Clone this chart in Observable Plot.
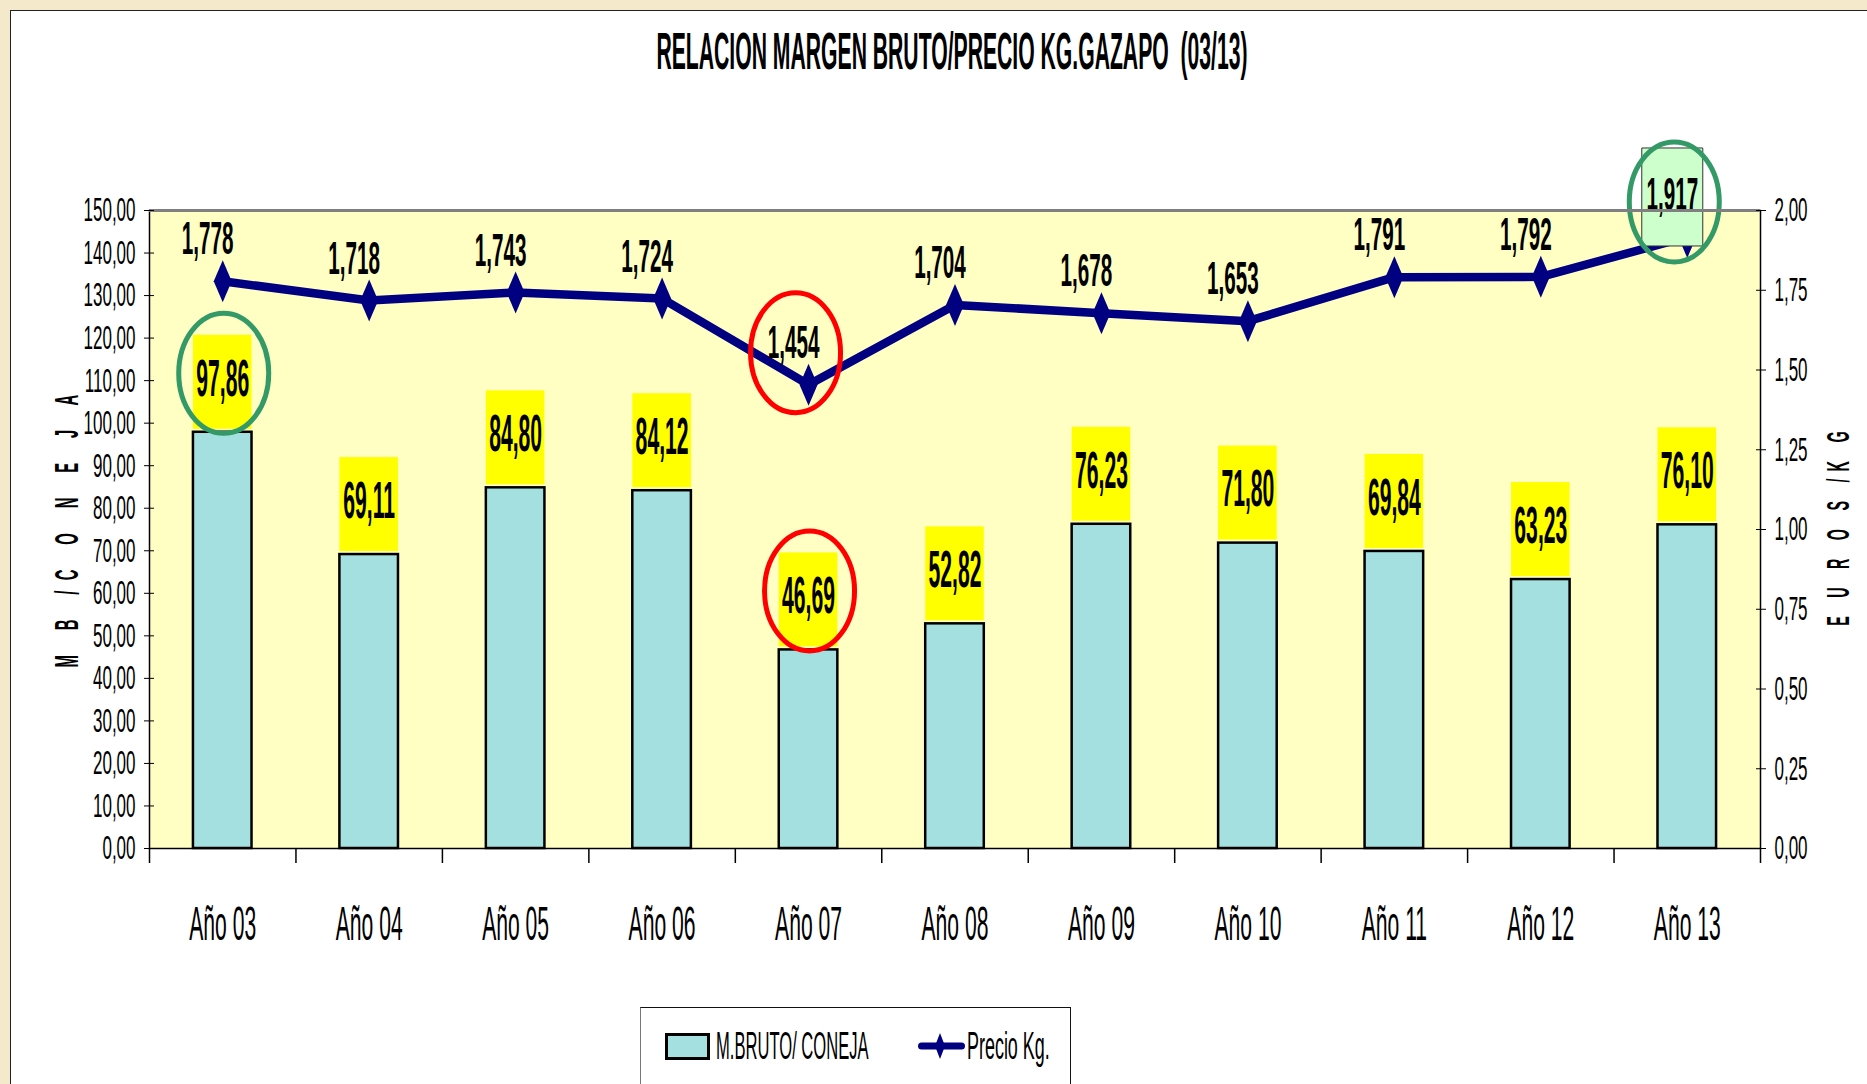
<!DOCTYPE html>
<html>
<head>
<meta charset="utf-8">
<script src="https://cdn.jsdelivr.net/npm/d3@7"></script>
<script src="https://cdn.jsdelivr.net/npm/@observablehq/plot@0.6"></script>
<style>
html, body { margin: 0; padding: 0; }
body { width: 1867px; height: 1084px; overflow: hidden; background: #f5e9cb; position: relative;
       font-family: "Liberation Sans", Arial, sans-serif; color: #000; }
#frame { position: absolute; left: 10px; top: 10px; width: 1900px; height: 1120px; background: #fff;
         border: 1.5px solid #222; box-sizing: border-box; }
#chart { position: absolute; left: 0; top: 0; }
.lbl { position: absolute; width: 0; height: 0; }
.lbl > span { position: absolute; left: 0; top: 0; white-space: pre; line-height: 1; }
#legend { position: absolute; left: 640px; top: 1007px; width: 431px; height: 120px; background: #fff;
          border-top: 1.5px solid #111; border-right: 1.5px solid #111; border-left: 1.5px solid #777; box-sizing: border-box; }
#swatchBar { position: absolute; left: 665px; top: 1033px; width: 45px; height: 27px; background: #a4e0e0;
             border: 3px solid #000; box-sizing: border-box; }
#swatchLine { position: absolute; left: 912px; top: 1030px; }
</style>
</head>
<body>
<div id="frame"></div>
<div id="legend"></div>
<div id="swatchBar"></div>
<svg id="swatchLine" width="60" height="32" viewBox="0 0 60 32">
  <line x1="9.5" y1="16" x2="49.5" y2="16" stroke="#000080" stroke-width="7" stroke-linecap="round"></line>
  <path d="M28,3 L33,16 L28,29 L23,16 Z" fill="#000080"></path>
</svg>
<div id="chart"></div>
<script>
// ---- data ----
const years = ["Año 03", "Año 04", "Año 05", "Año 06", "Año 07", "Año 08", "Año 09", "Año 10", "Año 11", "Año 12", "Año 13"];
const margen = [97.86, 69.11, 84.80, 84.12, 46.69, 52.82, 76.23, 71.80, 69.84, 63.23, 76.10];
const precio = [1.778, 1.718, 1.743, 1.724, 1.454, 1.704, 1.678, 1.653, 1.791, 1.792, 1.917];
const leftTicks = [0, 10, 20, 30, 40, 50, 60, 70, 80, 90, 100, 110, 120, 130, 140, 150];
const rightTicks = [0, 0.25, 0.5, 0.75, 1, 1.25, 1.5, 1.75, 2];
const redBarCats = ["Año 07"];
const greenBarCats = ["Año 03"];
const redPriceCats = ["Año 07"];
const greenPriceCats = ["Año 13"];
const titleText = "RELACION MARGEN BRUTO/PRECIO KG.GAZAPO  (03/13)";
const legendBar = "M.BRUTO/ CONEJA";
const legendLine = "Precio Kg.";
const leftTitle = "M B /C O N E J A";
const rightTitle = "E U R O S /K G";

// ---- layout ----
const W = 1867, H = 1000;
const mL = 149, mR = 107, mT = 210, mB = 152;
const plotH = H - mT - mB, plotW = W - mL - mR;
const yMax = 150, pMax = 2, k = yMax / pMax;
const u = yMax / plotH;                 // data units per pixel
const step = plotW / years.length;      // band step (paddingOuter = paddingInner / 2)

const rows = years.map((c, i) => ({c, m: margen[i], pr: precio[i], p: precio[i] * k}));
const fmt2 = v => v.toFixed(2).replace(".", ",");
const fmt3 = v => v.toFixed(3).replace(".", ",");

const diamond = {draw(c) { c.moveTo(0, -21); c.lineTo(9, 0); c.lineTo(0, 21); c.lineTo(-9, 0); c.closePath(); }};
const ellipse = {draw(c) {
  const rx = 45, ry = 60, kx = rx * 0.5523, ky = ry * 0.5523;
  c.moveTo(rx, 0);
  c.bezierCurveTo(rx, ky, kx, ry, 0, ry);
  c.bezierCurveTo(-kx, ry, -rx, ky, -rx, 0);
  c.bezierCurveTo(-rx, -ky, -kx, -ry, 0, -ry);
  c.bezierCurveTo(kx, -ry, rx, -ky, rx, 0);
  c.closePath();
}};
const box = {draw(c) { c.rect(-30.5, -49, 61, 98); }};

const barLabelY = d => d.m + 50 * u;
const labDx = -15, labDy = -42;

const chart = Plot.plot({
  width: W, height: H,
  marginLeft: mL, marginRight: mR, marginTop: mT, marginBottom: mB,
  style: {background: "transparent", fontFamily: "'Liberation Sans', Arial, sans-serif", color: "#000", overflow: "visible"},
  x: {type: "band", domain: years, paddingInner: 0.6, paddingOuter: 0.3, round: false, label: null},
  y: {domain: [0, yMax], label: null},
  marks: [
    Plot.frame({fill: "#ffffc4", stroke: null}),
    Plot.barY(rows, {x: "c", y: "m", fill: "#a4e0e0", stroke: "#000", strokeWidth: 2.5}),
    Plot.barY(rows, {x: "c", y1: d => d.m + 3 * u, y2: d => d.m + 97 * u, fill: "#ffff00"}),
    Plot.text(rows, {x: "c", y: barLabelY, text: d => fmt2(d.m), fontSize: 51, fontWeight: "bold", dy: -3}),
    Plot.line(rows, {x: "c", y: "p", stroke: "#000080", strokeWidth: 8.5}),
    Plot.dot(rows, {x: "c", y: "p", symbol: diamond, fill: "#000080", stroke: null}),
    Plot.dot(rows.filter(d => greenPriceCats.includes(d.c)), {x: "c", y: "p", dx: labDx, dy: labDy + 2, symbol: box, fill: "#ccffcc", stroke: "#333", strokeWidth: 1}),
    Plot.text(rows, {x: "c", y: "p", text: d => fmt3(d.pr), dx: labDx, dy: labDy, fontSize: 47, fontWeight: "bold"}),
    Plot.dot(rows.filter(d => greenBarCats.includes(d.c)), {x: "c", y: barLabelY, dx: 1, dy: -9, symbol: ellipse, fill: "none", stroke: "#339966", strokeWidth: 5}),
    Plot.dot(rows.filter(d => redBarCats.includes(d.c)), {x: "c", y: barLabelY, dx: 1, dy: -9, symbol: ellipse, fill: "none", stroke: "#ff0000", strokeWidth: 5}),
    Plot.dot(rows.filter(d => redPriceCats.includes(d.c)), {x: "c", y: "p", dx: -13, dy: -32, symbol: ellipse, fill: "none", stroke: "#ff0000", strokeWidth: 5}),
    Plot.dot(rows.filter(d => greenPriceCats.includes(d.c)), {x: "c", y: "p", dx: -13, dy: -35, symbol: ellipse, fill: "none", stroke: "#339966", strokeWidth: 5}),
    Plot.frame({stroke: "#000", strokeWidth: 1.5}),
    Plot.ruleY([yMax], {stroke: "#808080", strokeWidth: 3}),
    Plot.ruleX(years, {x: d => d, dx: -step / 2, y1: 0, y2: -15 * u, stroke: "#000", strokeWidth: 1.5}),
    Plot.ruleX(years.slice(-1), {x: d => d, dx: step / 2, y1: 0, y2: -15 * u, stroke: "#000", strokeWidth: 1.5}),
    Plot.axisY({anchor: "left", ticks: leftTicks, tickFormat: fmt2, tickSize: 10, dx: 5, tickPadding: 9, fontSize: 34, label: null}),
    Plot.axisY({anchor: "right", ticks: rightTicks.map(v => v * k), tickFormat: d => fmt2(d / k), tickSize: 10, dx: -5, tickPadding: 9, fontSize: 34, label: null}),
    Plot.axisX({anchor: "bottom", tickSize: 0, tickPadding: 57, fontSize: 48, label: null})
  ]
});

// condensed lettering: squeeze glyphs horizontally around their anchor
const squeeze = {34: 0.5, 48: 0.44, 51: 0.415, 47: 0.44};
chart.querySelectorAll("text").forEach(t => {
  const g = t.closest("[font-size]");
  if (!g) return;
  const s = squeeze[parseFloat(g.getAttribute("font-size"))];
  if (!s) return;
  const tr = t.getAttribute("transform") || "";
  t.setAttribute("transform", tr + ` scale(${s},1)`);
});
document.getElementById("chart").appendChild(chart);

// ---- HTML texts ----
function placeText(text, {cx, cy, size, weight = "normal", sx = 1, rotate = 0, anchor = "middle", spacing = 0}) {
  const w = document.createElement("div");
  w.className = "lbl";
  w.style.left = cx + "px";
  w.style.top = cy + "px";
  const s = document.createElement("span");
  s.textContent = text;
  s.style.fontSize = size + "px";
  s.style.fontWeight = weight;
  s.style.letterSpacing = spacing + "px";
  const tx = anchor === "start" ? "0" : "-50%";
  s.style.transformOrigin = anchor === "start" ? "0 50%" : "50% 50%";
  s.style.transform = `translate(${tx},-50%) rotate(${rotate}deg) scaleX(${sx})`;
  w.appendChild(s);
  document.body.appendChild(w);
}
placeText(titleText, {cx: 952, cy: 51, size: 51, weight: "bold", sx: 0.415});
placeText(leftTitle, {cx: 66, cy: 526, size: 33, weight: "bold", sx: 0.45, rotate: -90, spacing: 23});
placeText(rightTitle, {cx: 1838, cy: 525, size: 32, weight: "bold", sx: 0.45, rotate: -90, spacing: 16});
placeText(legendBar, {cx: 716, cy: 1045, size: 39, sx: 0.425, anchor: "start"});
placeText(legendLine, {cx: 967, cy: 1045, size: 39, sx: 0.46, anchor: "start"});
</script>
</body>
</html>
